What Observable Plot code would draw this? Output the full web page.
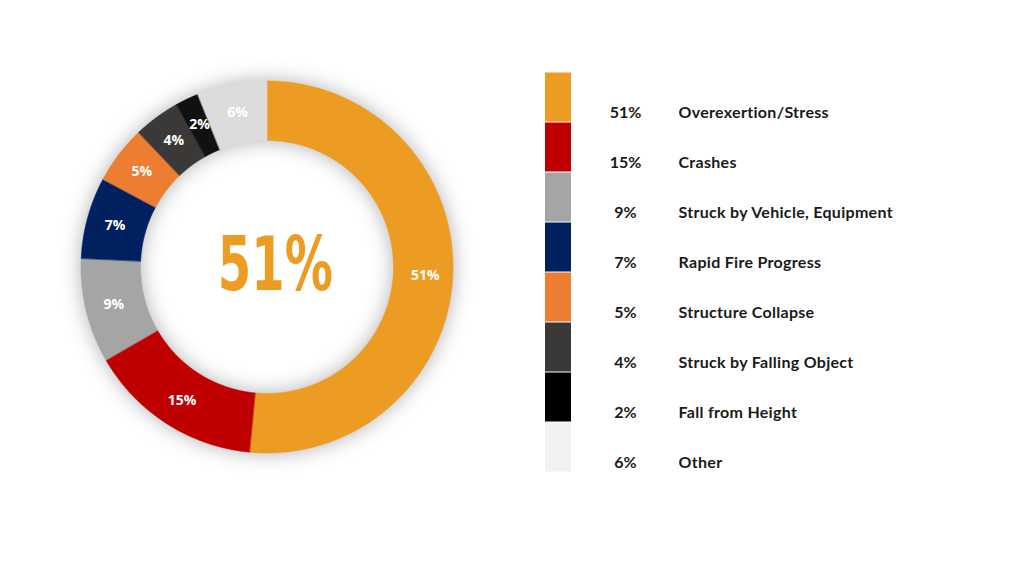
<!DOCTYPE html>
<html>
<head>
<meta charset="utf-8">
<script src="https://cdn.jsdelivr.net/npm/d3@7"></script>
<script src="https://cdn.jsdelivr.net/npm/@observablehq/plot@0.6"></script>
<style>
  html, body { margin: 0; padding: 0; background: #fff; }
  #wrap { position: relative; width: 1024px; height: 576px; overflow: hidden; background: #fff; }
  #donut { position: absolute; left: 47px; top: 47px; }
  #legend { position: absolute; left: 545px; top: 72px; }
</style>
</head>
<body>
<div id="wrap"><div id="donut"></div><div id="legend"></div></div>
<script>
// ---- data ----
const categories = ["Overexertion/Stress", "Crashes", "Struck by Vehicle, Equipment", "Rapid Fire Progress", "Structure Collapse", "Struck by Falling Object", "Fall from Height", "Other"];
const values = [51, 15, 9, 7, 5, 4, 2, 6];
const donutColors = ["#EC9C22", "#C00000", "#A5A5A5", "#002060", "#ED7D31", "#3B3838", "#111111", "#DCDCDC"];
const legendColors = ["#EC9C22", "#C00000", "#A5A5A5", "#002060", "#ED7D31", "#3B3838", "#000000", "#F2F2F2"];
const centerValue = 51;

// ---- geometry derived from data ----
const rows = categories.map((cat, i) => ({cat, value: values[i]}));
const arcs = d3.pie().sort(null).value(d => d.value)(rows);
const R_OUT = 1, R_IN = 0.68, R_LAB = 0.85;
const ringPts = [];
for (const a of arcs) {
  const n = Math.max(2, Math.ceil((a.endAngle - a.startAngle) / 0.005) + 1);
  for (let k = 0; k < n; k++) {
    const t = a.startAngle + (a.endAngle - a.startAngle) * k / (n - 1);
    ringPts.push({
      cat: a.data.cat,
      xo: R_OUT * Math.sin(t), yo: R_OUT * Math.cos(t),
      xi: R_IN * Math.sin(t), yi: R_IN * Math.cos(t)
    });
  }
}
const labels = arcs.map(a => {
  const m = (a.startAngle + a.endAngle) / 2;
  return {cat: a.data.cat, value: a.data.value, x: R_LAB * Math.sin(m), y: R_LAB * Math.cos(m)};
});

const SIZE = 440, EXT = 220 / 186, SX = 0.65;
const donut = Plot.plot({
  width: SIZE, height: SIZE,
  margin: 0,
  x: {domain: [-EXT, EXT], axis: null},
  y: {domain: [-EXT, EXT], axis: null},
  color: {domain: categories, range: donutColors},
  marks: [
    Plot.area(ringPts, {x1: "xo", y1: "yo", x2: "xi", y2: "yi", z: "cat", fill: "cat", stroke: "cat", strokeWidth: 0.6}),
    Plot.text(labels, {x: "x", y: "y", text: d => d.value + "%", fill: "white", fontWeight: "bold",
      fontSize: 14, fontFamily: "'Open Sans', 'DejaVu Sans', sans-serif"}),
    Plot.text([centerValue], {frameAnchor: "middle", text: d => d + "%", fill: "#EC9C22", fontWeight: "bold",
      fontSize: 74, dy: -1,
      fontFamily: "'DejaVu Sans', sans-serif"})
  ]
});
d3.select(donut).selectAll('g[aria-label="area"]').style("filter", "drop-shadow(0px 0px 10px rgba(0,0,0,0.3))");
{
  const g = d3.select(donut).selectAll('g[aria-label="text"]').nodes()[1];
  const prev = g.getAttribute("transform") || "";
  const cx = SIZE / 2 + 8;
  g.setAttribute("transform", `translate(${cx},0) scale(${SX},1) translate(${-SIZE/2},0) ${prev}`);
}
document.getElementById("donut").appendChild(donut);

const legend = Plot.plot({
  width: 400, height: 400,
  margin: 0,
  x: {domain: [0, 1], range: [0, 26], axis: null},
  y: {domain: categories, padding: 0, axis: null},
  color: {domain: categories, range: legendColors},
  style: {fontFamily: "Lato, 'Noto Sans', sans-serif"},
  marks: [
    Plot.barX(rows, {x1: 0, x2: 1, y: "cat", fill: "cat", insetTop: 0.5, insetBottom: 0.5}),
    Plot.text(rows, {y: "cat", text: d => d.value + "%", frameAnchor: "left", dx: 80, dy: 15,
      textAnchor: "middle", fontSize: 16, fontWeight: "bold", fill: "#1a1a1a"}),
    Plot.text(rows, {y: "cat", text: "cat", frameAnchor: "left", dx: 133, dy: 15,
      textAnchor: "start", fontSize: 16, fontWeight: "bold", fill: "#1a1a1a"})
  ]
});
d3.select(legend).selectAll('g[aria-label="text"]').filter((d, i) => i === 1).style("letter-spacing", "0.3px");
document.getElementById("legend").appendChild(legend);
</script>
</body>
</html>
